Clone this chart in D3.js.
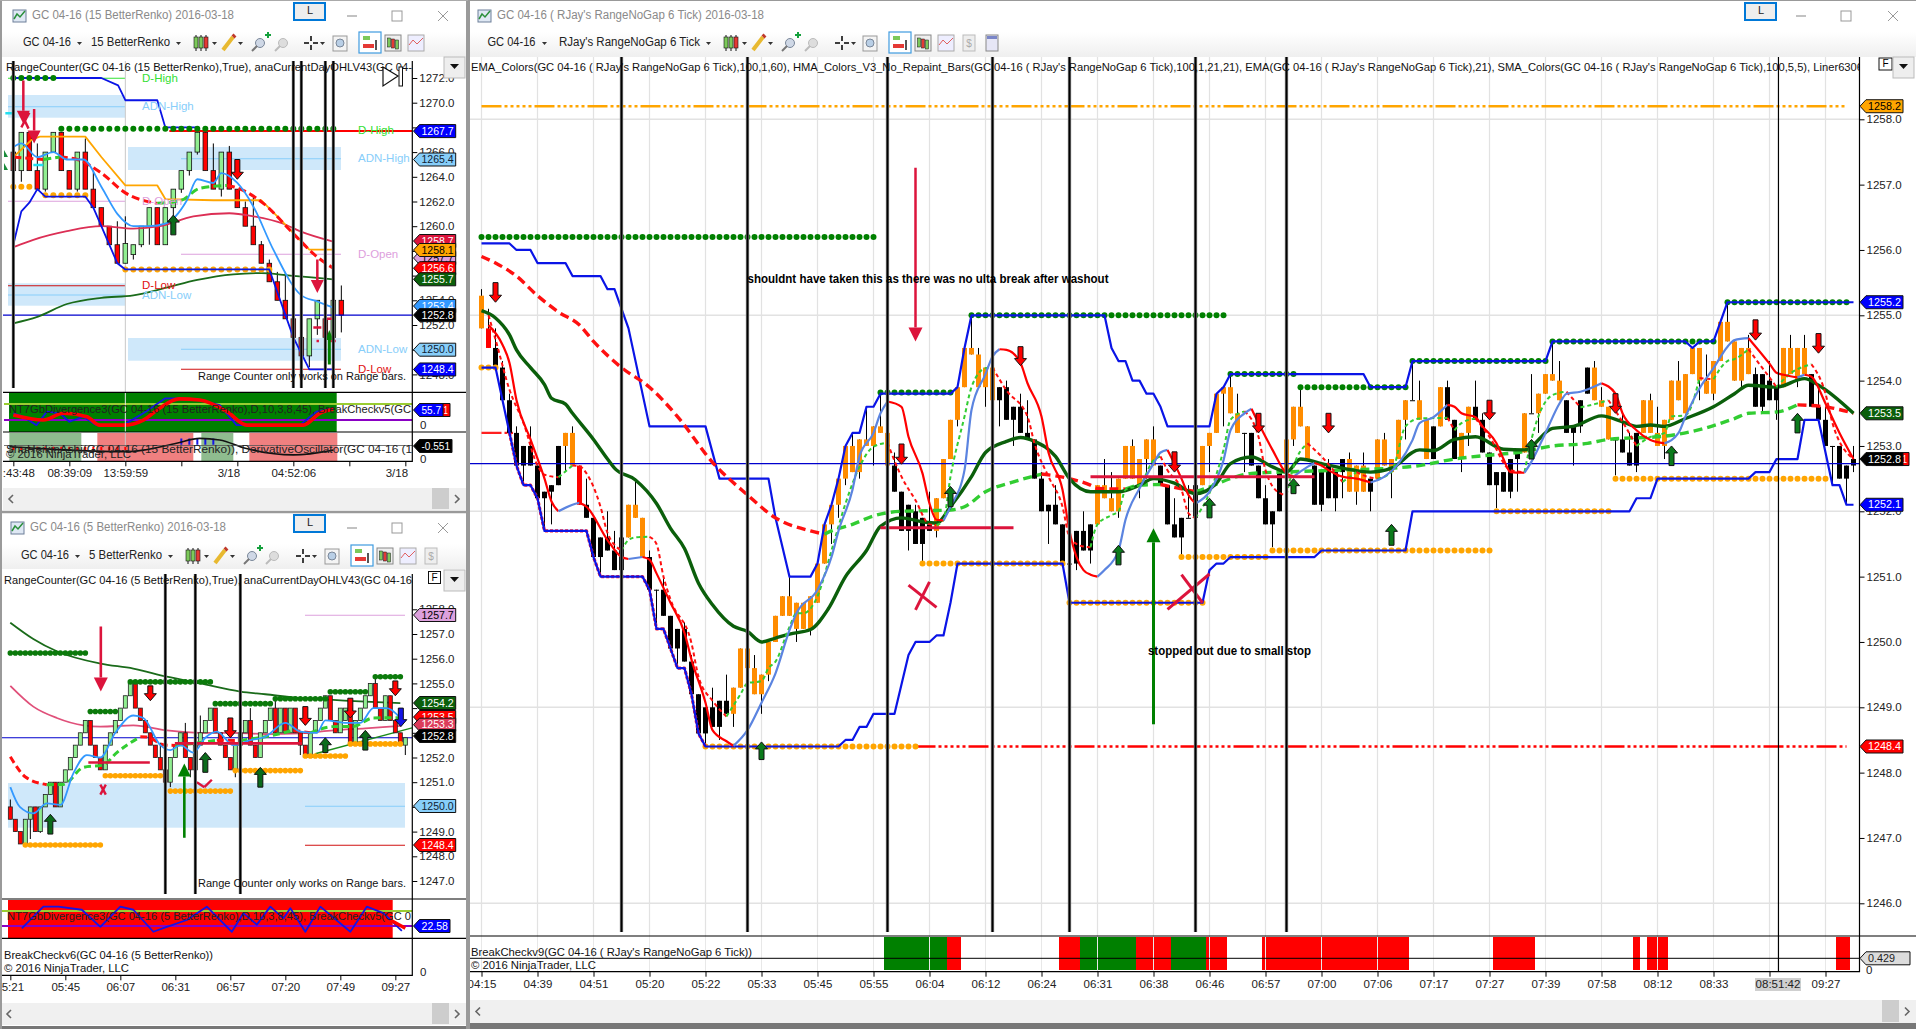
<!DOCTYPE html>
<html>
<head>
<meta charset="utf-8">
<title>GC 04-16 charts</title>
<script src="https://cdn.jsdelivr.net/npm/d3@7"></script>
<style>
body { margin: 0; background: #777; overflow: hidden; }
text { font-family: "Liberation Sans", Arial, sans-serif; }
</style>
</head>
<body>
<div id="graphArea"></div>
<script>
// ---- main chart: RJay's RangeNoGap 6 Tick ----
var mainBodyHi = [1255.3,1254.8,1254.5,1254.2,1253.7,1253.2,1253.0,1253.0,1252.7,1252.3,1252.4,1253.0,1253.2,1253.2,1252.7,1252.1,1251.9,1251.6,1251.6,1251.4,1251.6,1252.1,1252.1,1251.9,1251.3,1250.8,1250.8,1250.4,1250.2,1250.2,1249.7,1249.2,1249.0,1249.0,1249.1,1249.1,1249.3,1249.9,1249.9,1249.6,1249.5,1250.0,1250.4,1250.7,1250.7,1250.6,1250.6,1250.7,1251.2,1251.8,1252.1,1252.5,1253.0,1253.0,1253.1,1253.1,1253.3,1253.3,1253.2,1252.7,1252.3,1252.1,1252.0,1251.9,1251.8,1252.2,1252.8,1253.4,1253.9,1254.5,1254.5,1254.4,1254.2,1254.2,1253.9,1253.9,1253.6,1253.6,1253.2,1253.1,1252.5,1252.1,1252.1,1251.8,1251.2,1251.7,1251.7,1251.8,1252.4,1252.4,1252.2,1252.5,1253.0,1253.0,1252.8,1253.1,1253.1,1252.7,1252.4,1251.8,1251.9,1251.9,1252.4,1253.0,1253.2,1253.8,1253.9,1253.9,1253.5,1253.2,1253.2,1252.7,1252.2,1252.0,1252.6,1253.1,1253.6,1253.6,1253.3,1252.7,1252.6,1252.7,1252.6,1252.8,1252.8,1252.7,1252.7,1252.5,1253.1,1253.1,1252.8,1253.4,1253.7,1253.7,1253.7,1253.4,1253.3,1253.9,1253.9,1253.4,1253.2,1253.6,1253.6,1253.4,1252.9,1252.6,1252.6,1252.8,1252.9,1253.5,1253.5,1253.8,1254.1,1254.1,1254.0,1253.7,1253.3,1253.7,1254.2,1254.2,1253.7,1253.6,1253.1,1253.1,1252.9,1253.2,1253.7,1253.7,1253.2,1253.4,1254.0,1254.0,1254.1,1254.5,1254.5,1254.0,1254.3,1254.9,1254.9,1254.6,1254.5,1254.5,1254.1,1254.1,1254.0,1253.9,1254.5,1254.5,1254.5,1254.5,1254.1,1253.6,1253.4,1253.0,1253.0,1252.7,1252.8];
var mainBodyLo = [1254.8,1254.5,1254.2,1253.7,1253.2,1252.7,1252.7,1252.7,1252.2,1252.2,1252.3,1252.4,1253.0,1252.7,1252.1,1251.9,1251.3,1251.3,1251.4,1251.1,1251.1,1251.6,1251.9,1251.3,1250.8,1250.8,1250.4,1249.9,1249.9,1249.7,1249.2,1248.6,1248.6,1248.7,1248.7,1248.9,1248.9,1249.3,1249.6,1249.2,1249.2,1249.5,1250.0,1250.4,1250.4,1250.2,1250.2,1250.2,1250.6,1251.2,1251.8,1252.1,1252.5,1252.6,1252.6,1253.0,1253.0,1253.2,1252.7,1252.3,1251.7,1251.7,1251.5,1251.5,1251.7,1251.7,1252.2,1252.8,1253.4,1253.9,1254.4,1253.9,1253.9,1253.7,1253.7,1253.4,1253.4,1253.2,1253.1,1252.5,1252.0,1252.0,1251.8,1251.2,1251.2,1251.2,1251.4,1251.4,1251.8,1252.2,1252.0,1252.0,1252.5,1252.5,1252.4,1252.8,1252.7,1252.4,1251.8,1251.6,1251.6,1251.9,1251.9,1252.4,1253.0,1253.2,1253.8,1253.5,1253.2,1253.2,1252.7,1252.2,1251.8,1251.8,1252.0,1252.6,1253.1,1253.3,1252.8,1252.1,1252.1,1252.2,1252.2,1252.6,1252.3,1252.3,1252.3,1252.3,1252.5,1252.7,1252.6,1252.8,1253.4,1253.7,1253.4,1252.8,1252.8,1253.3,1253.4,1252.8,1252.8,1253.2,1253.4,1252.9,1252.4,1252.4,1252.3,1252.3,1252.8,1252.9,1253.5,1253.5,1253.8,1254.0,1253.7,1253.2,1253.2,1253.3,1253.8,1253.7,1253.6,1253.1,1253.1,1252.9,1252.7,1252.7,1253.2,1253.2,1253.0,1253.0,1253.4,1253.7,1253.5,1254.1,1254.0,1253.8,1253.8,1254.3,1254.6,1254.0,1254.0,1254.1,1253.6,1253.6,1253.7,1253.7,1253.9,1254.1,1254.0,1254.1,1253.6,1253.4,1253.0,1253.0,1252.5,1252.5,1252.7];
var mainWickHigh = [[0,1255.4],[1,1255.1],[2,1254.8],[3,1254.3],[4,1253.8],[5,1253.3],[7,1253.3],[13,1253.3],[15,1252.5],[18,1252.0],[19,1251.7],[22,1252.5],[24,1251.4],[26,1251.0],[29,1250.3],[30,1249.8],[33,1249.3],[35,1249.5],[39,1249.8],[44,1251.0],[53,1253.2],[55,1253.6],[57,1253.8],[59,1252.9],[62,1252.1],[64,1252.3],[70,1255.0],[71,1254.5],[75,1254.0],[77,1253.8],[78,1253.7],[80,1252.6],[82,1252.4],[84,1251.4],[86,1252.0],[89,1252.8],[90,1252.6],[93,1253.1],[96,1253.3],[99,1252.2],[101,1252.4],[107,1254.1],[108,1253.8],[112,1252.4],[117,1253.9],[121,1252.8],[124,1252.9],[126,1252.9],[129,1253.2],[133,1254.3],[134,1254.0],[138,1254.0],[142,1254.0],[143,1253.5],[150,1254.1],[153,1254.6],[154,1254.3],[159,1254.3],[160,1253.9],[163,1253.5],[164,1253.2],[167,1253.8],[168,1253.6],[171,1254.3],[175,1254.4],[178,1255.2],[181,1254.7],[182,1254.2],[184,1254.3],[187,1254.7],[189,1254.7],[191,1253.9],[192,1253.6],[196,1253.0]];
var mainWickLow = [[6,1252.4],[9,1251.7],[10,1251.8],[12,1252.6],[17,1251.0],[25,1250.2],[28,1249.6],[32,1248.4],[34,1248.5],[36,1248.7],[40,1248.9],[41,1249.4],[45,1250.0],[47,1250.1],[50,1251.5],[51,1251.9],[52,1252.4],[54,1252.5],[56,1252.7],[61,1251.4],[63,1251.2],[65,1251.6],[68,1253.3],[72,1253.6],[74,1253.3],[76,1253.0],[81,1251.5],[85,1251.1],[87,1251.2],[91,1251.9],[94,1252.2],[95,1252.5],[100,1251.3],[104,1252.6],[106,1253.3],[109,1252.6],[113,1251.45],[116,1253.0],[120,1252.0],[122,1252.0],[123,1252.2],[125,1252.1],[127,1252.0],[130,1252.2],[132,1253.1],[140,1252.6],[141,1253.0],[145,1252.05],[147,1252.2],[148,1252.3],[151,1253.2],[156,1252.7],[157,1253.2],[162,1252.55],[165,1252.6],[169,1252.8],[174,1253.7],[176,1253.7],[180,1253.9],[183,1253.5],[185,1253.4],[188,1253.9],[193,1252.4],[195,1252.1],[196,1252.6]];
var mainUpRuns = [[0,0],[12,13],[21,23],[36,58],[65,73],[88,96],[103,108],[115,118],[124,126],[128,132],[134,135],[137,137],[140,141],[149,149],[151,154],[159,161],[166,181],[186,189]];
var mainRedBars = [1,14];

var mainBandUpper = [[0,1256.1],[4,1256.1],[5,1256.0],[7,1256.0],[8,1255.8],[12,1255.8],[13,1255.6],[17,1255.6],[18,1255.4],[19,1255.4],[21,1254.8],[24,1253.3],[32,1253.3],[34,1252.5],[41,1252.5],[42,1251.9],[44,1251.0],[47,1251.0],[48,1251.2],[49,1251.8],[50,1252.1],[51,1252.5],[52,1253.0],[53,1253.2],[54,1253.2],[55,1253.6],[56,1253.6],[57,1253.8],[67,1253.8],[68,1253.9],[69,1254.5],[70,1255.0],[89,1255.0],[90,1254.5],[91,1254.3],[92,1254.3],[93,1254.0],[94,1254.0],[95,1253.8],[96,1253.8],[97,1253.6],[98,1253.3],[104,1253.3],[105,1253.8],[106,1253.9],[107,1254.1],[126,1254.1],[127,1253.9],[132,1253.9],[133,1254.3],[152,1254.3],[153,1254.6],[172,1254.6],[173,1254.5],[174,1254.6],[176,1254.6],[178,1255.2],[196,1255.2]];
var mainBandLower = [[0,1254.2],[2,1254.2],[3,1253.7],[4,1253.2],[5,1252.7],[6,1252.4],[7,1252.4],[8,1252.2],[9,1251.7],[15,1251.7],[16,1251.3],[17,1251.0],[23,1251.0],[24,1250.8],[25,1250.2],[26,1250.2],[27,1249.9],[28,1249.6],[29,1249.6],[30,1249.2],[31,1248.6],[32,1248.4],[51,1248.4],[52,1248.5],[53,1248.5],[54,1248.7],[55,1248.7],[56,1248.9],[59,1248.9],[61,1249.8],[62,1250.0],[64,1250.0],[65,1250.1],[66,1250.1],[67,1250.6],[68,1251.2],[83,1251.2],[84,1250.6],[103,1250.6],[104,1251.1],[105,1251.2],[106,1251.2],[107,1251.3],[119,1251.3],[120,1251.4],[132,1251.4],[133,1252.0],[164,1252.0],[165,1252.2],[167,1252.2],[168,1252.5],[181,1252.5],[182,1252.6],[184,1252.6],[185,1252.8],[188,1252.8],[189,1253.4],[191,1253.4],[193,1252.4],[194,1252.4],[195,1252.1],[196,1252.1]];
var mainSma = [[0,1255.9],[2,1255.8],[5,1255.6],[8,1255.3],[11,1255.05],[14,1254.85],[16,1254.6],[20,1254.2],[24,1253.9],[28,1253.45],[33,1252.75],[38,1252.25],[42,1251.9],[47,1251.7],[49,1251.65],[50,1251.7],[53,1251.8],[56,1251.93],[60,1252.0],[64,1252.01],[67,1252.02],[69,1252.07],[72,1252.3],[76,1252.45],[80,1252.57],[84,1252.5],[87,1252.4],[88,1252.35],[92,1252.34],[94,1252.4],[97,1252.41],[102,1252.3],[104,1252.37],[107,1252.5],[110,1252.58],[114,1252.6],[120,1252.62],[125,1252.64],[130,1252.66],[134,1252.7],[139,1252.8],[143,1252.85],[148,1252.9],[153,1253.0],[158,1253.04],[161,1253.1],[169,1253.15],[174,1253.25],[179,1253.42],[181,1253.5],[185,1253.52],[188,1253.63],[193,1253.58],[196,1253.5]];
var mainEma = [[0,1255.07],[2,1254.96],[4,1254.7],[5,1254.47],[7,1254.2],[9,1253.94],[10,1253.73],[12,1253.64],[13,1253.5],[16,1253.1],[18,1252.8],[19,1252.66],[22,1252.48],[25,1252.12],[27,1251.74],[29,1251.43],[31,1250.9],[33,1250.57],[36,1250.24],[38,1250.16],[40,1250.0],[42,1250.06],[44,1250.12],[47,1250.19],[49.5,1250.5],[52,1251.0],[55,1251.4],[57,1251.77],[60,1251.9],[63,1251.84],[65,1251.82],[67,1252.07],[70,1252.53],[72,1252.9],[75,1253.07],[77,1253.13],[79,1253.07],[82,1252.84],[84,1252.5],[87,1252.3],[91,1252.3],[94,1252.4],[96,1252.5],[99,1252.43],[102,1252.27],[105,1252.43],[107,1252.73],[110,1252.83],[113,1252.68],[115,1252.6],[117,1252.8],[120,1252.73],[123,1252.66],[127,1252.6],[130,1252.66],[134,1252.94],[136,1252.93],[139,1253.1],[142,1253.14],[146,1252.95],[149,1252.94],[153,1253.27],[156,1253.3],[160,1253.46],[163,1253.37],[165,1253.3],[167,1253.32],[169,1253.3],[172,1253.42],[176,1253.6],[179,1253.8],[181,1253.93],[185,1253.9],[189,1254.03],[191,1253.93],[196,1253.5]];
var mainHma = [[1,1254.85],[3,1254.55],[4,1254.27],[5,1253.7],[7,1253.1],[9,1252.5],[10,1252.15],[11,1252.0],[13,1252.1],[14,1252.13],[15,1252.07],[18,1251.56],[20,1251.3],[21,1251.27],[23,1251.3],[24,1251.26],[25,1251.05],[27,1250.6],[29,1250.14],[30,1249.73],[32,1249.07],[33,1248.65],[35,1248.48],[36,1248.41],[38,1248.65],[40,1249.07],[42,1249.52],[44,1250.18],[45,1250.44],[48,1250.8],[50,1251.3],[51,1251.7],[53,1252.33],[54,1252.84],[56,1253.2],[57,1253.5],[58,1253.68],[60,1253.6],[61,1253.14],[63,1252.58],[64,1252.12],[65,1251.87],[66,1251.86],[67,1252.07],[69,1252.63],[70,1253.55],[72,1254.1],[73,1254.37],[74,1254.48],[75,1254.47],[77,1254.27],[78,1253.96],[80,1253.45],[81,1252.9],[83,1252.33],[84,1251.7],[85,1251.3],[86,1251.1],[87,1251.03],[88,1251.0],[89,1251.1],[91,1251.4],[92,1251.87],[94,1252.35],[96,1252.73],[97,1252.9],[98,1252.94],[99,1252.73],[100,1252.5],[101,1252.25],[102,1252.12],[104,1252.3],[106,1252.78],[107,1253.24],[109,1253.5],[110,1253.57],[111,1253.35],[113,1252.94],[115,1252.58],[116,1252.53],[118,1252.68],[119,1252.74],[120,1252.7],[121,1252.63],[123,1252.53],[125,1252.5],[127,1252.44],[129,1252.53],[131,1252.73],[133,1253.09],[134,1253.35],[136,1253.44],[137,1253.53],[138,1253.63],[139,1253.6],[140,1253.5],[142,1253.44],[143,1253.3],[145,1253.04],[146,1252.8],[147,1252.6],[149,1252.59],[150,1252.76],[152,1253.2],[154,1253.65],[155,1253.8],[157,1253.83],[160,1253.96],[162,1253.8],[163,1253.5],[165,1253.24],[167,1253.09],[169,1253.04],[171,1253.2],[172,1253.45],[174,1253.88],[176,1254.19],[178,1254.52],[179,1254.62],[181,1254.65],[184,1254.26],[185,1254.12],[186,1254.09],[188,1254.05],[189,1254.09],[190,1254.06],[192,1253.65],[194,1253.2],[196,1252.8]];
var mainFast = [[1,1255.0],[2,1254.63],[4,1253.86],[6,1253.35],[8,1252.7],[9,1252.56],[11,1252.52],[13,1252.7],[14,1252.69],[15,1252.58],[17,1252.07],[18,1251.67],[20,1251.4],[21,1251.56],[22,1251.6],[24,1251.61],[25,1251.5],[26,1251.0],[27,1250.65],[30,1249.98],[31,1249.47],[33,1249.1],[35,1248.86],[37,1249.2],[38,1249.37],[40,1249.4],[41,1249.6],[42,1249.7],[44,1250.23],[45,1250.44],[46,1250.44],[48,1250.7],[50,1251.4],[52,1252.12],[54,1252.68],[56,1252.99],[58,1253.05],[60,1252.53],[62,1252.17],[64,1251.8],[65,1251.79],[66,1251.87],[67,1252.53],[69,1253.45],[70,1253.9],[72,1254.19],[73,1254.2],[75,1253.85],[78,1253.45],[79,1253.04],[81,1252.53],[83,1252.07],[84,1251.6],[85,1251.5],[86,1251.46],[87,1251.45],[88,1251.8],[90,1251.94],[91,1252.0],[92,1252.33],[94,1252.4],[96,1252.78],[97,1252.84],[98,1252.63],[100,1252.33],[101,1251.97],[102,1251.9],[104,1252.28],[106,1252.94],[107,1253.4],[109,1253.53],[111,1253.14],[112,1252.63],[114,1252.28],[115,1252.25],[116,1252.68],[118,1253.04],[120,1252.84],[123,1252.45],[125,1252.6],[126,1252.55],[128,1252.5],[130,1252.6],[132,1253.3],[134,1253.42],[138,1253.43],[139,1253.24],[140,1253.35],[142,1253.42],[144,1253.14],[147,1252.63],[149,1252.6],[150,1253.1],[153,1253.78],[155,1253.83],[157,1253.59],[159,1253.64],[161,1253.7],[163,1253.37],[165,1253.0],[167,1253.14],[169,1253.2],[170,1253.45],[172,1253.47],[174,1254.04],[176,1254.02],[178,1254.3],[179,1254.33],[181,1254.48],[183,1254.19],[184,1254.05],[185,1253.9],[187,1254.11],[190,1254.25],[192,1253.8],[193,1253.35],[196,1252.8]];
var mainGreenDots = [[0,56,1256.2],[57,67,1253.82],[70,106,1255.0],[107,116,1254.1],[117,132,1253.9],[133,152,1254.3],[153,176,1254.6],[178,195,1255.2]];
var mainOrangeDots = [[0,2,1254.2],[32,62,1248.4],[63,83,1251.2],[84,103,1250.6],[100,112,1251.3],[113,144,1251.4],[145,161,1252.0],[162,192,1252.5]];
var mainVLines = [20,38,58,73,84,102,115];
var mainDownArrows = [[2,1255.5,1255.2],[60,1253.03,1252.72],[77,1254.52,1254.23],[99,1252.91,1252.6],[111,1253.5,1253.2],[121,1253.5,1253.2],[144,1253.7,1253.4],[162,1253.8,1253.5],[182,1254.93,1254.62],[191,1254.72,1254.42]];
var mainUpArrows = [[40,1248.47,1248.2],[67,1252.38,1252.07],[91,1251.48,1251.18],[116,1252.5,1252.27],[104,1252.2,1251.9],[130,1251.8,1251.48],[150,1253.1,1252.8],[170,1253.0,1252.7],[188,1253.5,1253.2]];
var mainBigDown = [[62,1257.26,1254.6]];
var mainBigUp = [[96,1251.74,1248.74]];
var mainCrimsonLines = [[57,76,1251.75],[87,119,1252.53]];
var mainCrosses = [[[61,1250.87,65,1250.53],[64,1250.92,62,1250.49]],[[98,1250.5,104,1251.04],[100,1251.03,103,1250.6]]];
var mainLastLine = 1252.73;
var mainBreakGreen = [[57.5,66.5],[85.5,93.5],[98.5,103.5]];
var mainBreakRed = [[66.5,68.5],[82.5,85.5],[93.5,98.5],[103.5,106.5],[111.5,132.5],[144.5,150.5],[164.5,165.5],[166.5,169.5],[193.5,195.5]];
var mainPriceTicks = [1246,1247,1248,1249,1250,1251,1252,1253,1254,1255,1256,1257,1258];
var mainGridPrices = [1246,1249,1252,1255,1258];
var mainTimeIdx = [0,8,16,24,32,40,48,56,64,72,80,88,96,104,112,120,128,136,144,152,160,168,176,184,192];
var mainTimeLabels = ["04:15","04:39","04:51","05:20","05:22","05:33","05:45","05:55","06:04","06:12","06:24","06:31","06:38","06:46","06:57","07:00","07:06","07:17","07:27","07:39","07:58","08:12","08:33","","09:27"];

// ---- chart 2: 15 BetterRenko ----
var c2Top = [1266.0,1267.6,1267.6,1264.5,1266,1267.6,1267.6,1264.5,1266,1266,1263,1261.5,1260,1258.5,1258.6,1258.5,1260,1261.5,1261.5,1261.5,1263,1264.5,1266,1267.6,1267.6,1264.5,1266,1266,1263,1261.5,1260,1258.5,1257,1255.5,1254,1252.5,1251,1252.5,1254,1252.5,1254,1254];
var c2Bot = [1264.5,1264.5,1264.5,1263,1263,1266,1264.5,1263,1263,1263,1261.5,1260,1258.5,1257,1257,1257.7,1258.5,1260,1258.5,1258.5,1261.5,1263,1264.5,1266,1264.5,1263,1263,1263,1261.5,1260,1258.5,1257,1255.5,1254,1252.5,1251,1249.5,1249.5,1252.5,1251,1251,1252.8];
var c2Red = [0,2,3,6,7,9,10,11,12,13,18,24,25,27,28,29,30,31,32,33,34,35,36,39,41];
var c2WickHigh = [[3,1266.7],[9,1267.1],[10,1264.5],[13,1260.4],[14,1260.8],[25,1266.7],[27,1266.5],[29,1262],[30,1262.3],[31,1258.8],[32,1257.3],[33,1256.3],[34,1256.3],[41,1255.2]];
var c2WickLow = [[1,1263.6],[4,1262.8],[8,1262.8],[15,1257.3],[16,1258.3],[17,1258.5],[20,1260.8],[21,1262.7],[22,1264.1],[23,1265.8],[26,1262.4],[37,1248.6],[38,1251.2],[40,1250.8],[41,1251.4]];
var c2BandUpper = [[-0.2,1272],[11,1272],[13.1,1271.4],[14,1270.2],[18,1270.2],[19,1268],[23,1268]];
var c2BandLower = [[0,1258.5],[1,1261.2],[2,1261.9],[3,1263],[4,1262.4],[9,1262.4],[10,1261.5],[11,1260],[13,1257],[14,1256.5],[32,1256.5],[35,1251],[37,1248.4],[40,1248.4]];
var c2Orange = [[0,1265.6],[2.3,1267],[3.3,1267.25],[9,1267.25],[11,1265.6],[14,1263.3],[18,1263.3],[19,1262.2],[25,1262.1],[31,1262.1],[33,1260.8],[37,1258.1],[40,1258.1]];
var c2Crimson = [[0.2,1258.35],[2.5,1258.9],[6.7,1259.6],[11,1260],[15,1259.8],[18.3,1260],[22.5,1260.8],[27,1261.05],[30,1260.8],[33.75,1260.2],[35.8,1259.6],[40,1258.75]];
var c2DarkGreen = [[0,1252.14],[3,1252.66],[6.7,1253.7],[11,1254.2],[15,1254.4],[19,1255],[23,1255.65],[27.5,1256.1],[31,1256.2],[34.6,1256],[40,1255.7]];
var c2SkyLine = [[0,1266.4],[1,1266.7],[3,1265.6],[5,1266],[6.7,1265.4],[8.75,1265.4],[11,1263.2],[13,1261],[15,1260],[17,1260],[19,1260.2],[21.7,1262.1],[23,1263.8],[25,1263.5],[26,1264.3],[28,1263.5],[30,1261.6],[32.5,1258.1],[36,1254.4],[38,1253.9],[40,1253.4]];
var c2Sma = [[0,1265.6],[3.75,1265.4],[5.8,1265.6],[8,1265.4],[11,1264.3],[14,1262.7],[18,1261.85],[21,1262.1],[23.3,1263.07],[26.7,1263.3],[27.5,1263.2],[31.25,1261.85],[35,1259.4],[38,1257.5],[40,1256.6]];
var c2GreenDots = [[0,5,1272],[6,40,1267.9]];
var c2OrangeDots = [[0,2,1263.2],[4,9,1262.5],[14,32,1256.5]];
var c2VLines = [0,35,36,39,40];
var c2DownArrows = [[28,1265.4,1263.8]];
var c2UpArrows = [[20,1260.9,1259.3]];
var c2BigDown = [[1.25,1271.8,1268.3],[2.6,1269.5,1266.7],[38,1257.3,1254.6]];
var c2BigUp = [[39.5,1251.6,1248.8]];
var c2CrimsonLines = [[37.5,38.5,1251.8],[39.2,40.2,1252.5],[37.9,38.2,1250.7],[39.5,40.3,1250.7]];
var c2Crosses = [[1,1268,2,1269.2],[1.1,1269,1.9,1267.9]];
var c2CyanDashes = [[-1,-0.05,1269.14],[2.5,3.75,1264.96]];
var c2PriceTicks = [1248,1250,1252,1254,1256,1258,1260,1262,1264,1266,1268,1270,1272];
var c2TimeIdx = [0,7,14,21,28,35,42,49];
var c2TimeLabels = [":43:48","08:39:09","13:59:59","","3/18","04:52:06","","3/18"];
var c2DivBlue = [[0,44],[1.25,32],[2.9,2],[4.2,50],[5.8,44],[7,14],[8.75,32],[10.4,2],[13.75,2],[16.25,44],[19,97],[20.7,97],[23.3,91],[25.8,73],[27.9,2],[35.8,2],[37.9,50],[40,61]];
var c2DivRed = [[0,38],[3.75,20],[6.25,44],[9.2,32],[10.8,2],[13.75,2],[16.25,20],[18.3,62],[20.7,95],[23.3,91],[26.7,50],[29.2,2],[36.25,2],[38.3,44],[40,58]];
var c2OscLine = [[-0.5,-0.52],[5,-0.42],[14,-0.33],[16.25,-0.39],[20.4,-0.66],[23.3,-0.85],[25.8,-0.79],[29,-0.46],[35,-0.2],[40,-0.39]];
var c2CellGreen = [[-0.5,8.5],[23.5,27.5]];
var c2CellSalmon = [[10.5,22.5],[29.5,40.5]];

// ---- chart 3: 5 BetterRenko ----
var c3Top = [1250,1249.5,1249,1249.5,1250,1250,1250,1250.5,1251,1251,1251,1251.5,1252,1252.5,1253,1253.5,1253.5,1252.5,1252,1252.5,1253,1253.5,1254,1254.5,1255,1255,1254,1253.5,1253,1252.5,1252,1251.5,1252,1252.5,1253,1253,1252,1252.5,1253,1253.5,1254,1254,1253,1252.5,1252,1252.5,1253,1253.5,1253.5,1252.5,1253,1253.5,1254,1254,1254,1254,1254,1254,1253,1252.5,1253,1253.5,1254,1254.5,1254.5,1253.5,1254,1254,1254,1253.5,1254,1254.5,1255,1255,1254,1254.5,1254.5,1253.5,1253,1252.8];
var c3Bot = [1249.5,1249,1248.5,1248.5,1249.5,1249,1249,1250,1250.5,1250,1250,1251,1251.5,1252,1252.5,1253,1252.5,1252,1251.5,1251.5,1252.5,1253,1253.5,1254,1254.5,1254,1253.5,1253,1252.5,1252,1251.5,1251,1251,1252,1252.5,1252,1251.5,1251.5,1252.5,1253,1253.5,1253,1252.5,1252,1251.5,1251.5,1252.5,1253,1252.5,1252,1252,1253,1253.5,1253,1253,1253,1253,1253,1252.5,1252,1252,1253,1253.5,1254,1253.5,1253,1253,1253.5,1252.5,1252.5,1253.5,1254,1254.5,1254,1253.5,1253.5,1253.5,1253,1252.5,1252.5];
var c3Red = [0,1,2,5,9,16,17,18,25,26,27,28,29,30,31,35,36,41,42,43,44,48,49,53,55,57,58,59,64,65,68,73,74,76,77,78];
var c3WickHigh = [[0,1250.3],[8,1251],[25,1255],[30,1252.6],[35,1253.4],[38,1253.7],[48,1254],[53,1254.3],[73,1255.3]];
var c3WickLow = [[3,1248.5],[4,1248.7],[6,1248.95],[31,1250.7],[32,1250.8],[36,1251.2],[45,1251.2],[58,1252.1],[79,1252.1]];
var c3DarkGreen = [[0,1257.46],[4.6,1256.8],[9.3,1256.3],[18,1255.8],[24.6,1255.6],[31.3,1255.27],[38,1255],[46,1254.67],[51,1254.56],[58,1254.4],[64.6,1254.33],[71,1254.26],[78,1254.2]];
var c3Crimson = [[0,1254.9],[4.6,1254.06],[9.3,1253.6],[14.6,1253.3],[18,1253.25],[24.6,1253.3],[31.3,1253.1],[38,1253],[44.6,1253],[51,1252.95],[58,1252.98],[64.6,1253.1],[71,1253.18],[78,1253.28]];
var c3SkyLine = [[0,1250.8],[1.9,1250],[4.6,1249.74],[7.3,1250.14],[10,1250.08],[12.6,1251.36],[15.3,1252.1],[18,1252],[21,1253],[24.6,1253.7],[26.6,1253.6],[30,1252.5],[32,1252.3],[34,1252.5],[36.6,1252.2],[39,1252.8],[41.3,1253.05],[44.6,1252.5],[48,1252.7],[51,1252.84],[55,1253.4],[58,1253.05],[61.3,1253],[63,1253.5],[67.3,1253.4],[70,1253.4],[72.6,1254],[75.3,1254],[78,1253.6]];
var c3Sma = [[0,1252.03],[3.1,1251.2],[7.3,1250.9],[10.6,1250.91],[14.6,1251.6],[18.6,1251.7],[21.3,1252.2],[26,1252.84],[27.2,1252.83],[31,1252.5],[33,1252.49],[36.6,1252.57],[41.3,1252.7],[46,1252.69],[51,1252.84],[56.6,1253.1],[60,1253],[64.6,1253.25],[68.6,1253.26],[72.6,1253.6],[78,1253.61]];
var c3GreenDots = [[0,15,1256.23],[16,21,1253.86],[24,40,1255.06],[41,52,1254.18],[53,63,1254.38],[64,71,1254.66],[73,78,1255.27]];
var c3OrangeDots = [[3,18,1248.46],[19,30,1251.26],[32,44,1250.64],[45,58,1251.47],[59,67,1252.06],[68,78,1252.55]];
var c3VLines = [31,37,46];
var c3DownArrows = [[28,1254.9,1254.3],[44,1253.6,1252.8],[59,1254.06,1253.3],[68,1254.4,1253.6],[77,1255.1,1254.5]];
var c3BlueArrows = [[78.1,1254,1253.25]];
var c3UpArrows = [[8,1249.7,1248.9],[39,1252.2,1251.4],[50,1251.6,1250.8],[63,1252.8,1252.2],[71,1253.1,1252.3]];
var c3BigDown = [[18.1,1257.3,1254.67]];
var c3BigUp = [[34.8,1251.76,1248.75]];
var c3CrimsonLines = [[15.6,27.9,1251.8],[32.9,58.3,1252.57]];
var c3Crosses = [[[18,1250.9,19.1,1250.5],[19.1,1250.9,18,1250.5]],[[37.3,1251.0,38.8,1250.8],[38.8,1250.8,40.3,1251.1]]];
var c3PriceTicks = [1247,1248,1249,1250,1251,1252,1253,1254,1255,1256,1257,1258];
var c3TimeIdx = [0,11,22,33,44,55,66,77];
var c3TimeLabels = ["5:21","05:45","06:07","06:31","06:57","07:20","07:49","09:27"];
var c3DivBlue = [[2.3,15],[6.6,85],[9.6,85],[14.3,75],[18,20],[22,85],[24.6,75],[28.6,4],[31.3,20],[35.3,42],[39.3,85],[44.3,4],[46.6,64],[49.3,27],[52,85],[54.6,47],[56,80],[59,4],[62,85],[68,4],[71.3,85],[74.6,64],[78.3,7]];
var c3DivRed = [[76,42],[79,15]];

// ---- helpers ----
var svg = d3.select("#graphArea").append("svg").attr("width", 1916).attr("height", 1029).style("display", "block");
var defs = svg.append("defs");
var grad = defs.append("linearGradient").attr("id", "toolbarFill").attr("x1", 0).attr("x2", 0).attr("y1", 0).attr("y2", 1);
grad.append("stop").attr("offset", "0").attr("stop-color", "#ffffff");
grad.append("stop").attr("offset", "1").attr("stop-color", "#efefef");

var clipCount = 0;
function clipGroup(parent, x, y, w, h) {
  clipCount++;
  defs.append("clipPath").attr("id", "clip" + clipCount).append("rect").attr("x", x).attr("y", y).attr("width", w).attr("height", h);
  return parent.append("g").attr("clip-path", "url(#clip" + clipCount + ")");
}
function label(g, x, y, txt, opts) {
  opts = opts || {};
  var t = g.append("text").attr("x", x).attr("y", y).attr("dominant-baseline", "middle")
    .attr("font-size", opts.size || 11).attr("fill", opts.fill || "#000").text(txt);
  if (opts.bold) t.attr("font-weight", "bold");
  if (opts.anchor) t.attr("text-anchor", opts.anchor);
  if (opts.width) t.attr("textLength", opts.width).attr("lengthAdjust", "spacingAndGlyphs");
  return t;
}
function hseg(g, x1, x2, y, color, w, dash) {
  var l = g.append("line").attr("x1", x1).attr("x2", x2).attr("y1", y).attr("y2", y).attr("stroke", color).attr("stroke-width", w);
  if (dash) l.attr("stroke-dasharray", dash);
  return l;
}
function vseg(g, x, y1, y2, color, w) {
  return g.append("line").attr("x1", x).attr("x2", x).attr("y1", y1).attr("y2", y2).attr("stroke", color).attr("stroke-width", w);
}
function drawLine(g, pts, x, y, color, w, curve, dash) {
  var line = d3.line().x(function(d) { return x(d[0]); }).y(function(d) { return y(d[1]); }).curve(curve || d3.curveLinear);
  var p = g.append("path").attr("d", line(pts)).attr("fill", "none").attr("stroke", color).attr("stroke-width", w).attr("stroke-linejoin", "round");
  if (dash) p.attr("stroke-dasharray", dash);
}
// rising runs get upColor, falling runs downColor
function drawSlopeLine(g, pts, x, y, upColor, downColor, w, dash) {
  var run = [pts[0]], rising = pts[1][1] >= pts[0][1];
  for (var i = 1; i < pts.length; i++) {
    var up = pts[i][1] >= pts[i - 1][1];
    if (up !== rising) {
      drawLine(g, run, x, y, rising ? upColor : downColor, w, d3.curveMonotoneX, dash);
      run = [pts[i - 1]];
      rising = up;
    }
    run.push(pts[i]);
  }
  drawLine(g, run, x, y, rising ? upColor : downColor, w, d3.curveMonotoneX, dash);
}
function drawCandles(g, top, bot, x, y, w, upFill, downFill, isDown, isAccent, accent, stroke, wickHigh, wickLow) {
  var highs = {}, lows = {};
  wickHigh.forEach(function(d) { highs[d[0]] = d[1]; });
  wickLow.forEach(function(d) { lows[d[0]] = d[1]; });
  var data = top.map(function(t, i) {
    return { i: i, top: t, bot: bot[i], high: highs[i] === undefined ? t : highs[i], low: lows[i] === undefined ? bot[i] : lows[i] };
  });
  g.selectAll(null).data(data).enter().append("line")
    .attr("x1", function(d) { return x(d.i); }).attr("x2", function(d) { return x(d.i); })
    .attr("y1", function(d) { return y(d.high); }).attr("y2", function(d) { return y(d.low); })
    .attr("stroke", "#000").attr("stroke-width", 1);
  g.selectAll(null).data(data).enter().append("rect")
    .attr("x", function(d) { return x(d.i) - w / 2; })
    .attr("y", function(d) { return y(d.top); })
    .attr("width", w)
    .attr("height", function(d) { return Math.max(1, y(d.bot) - y(d.top)); })
    .attr("fill", function(d) { return isAccent(d.i) ? accent : (isDown(d.i) ? downFill : upFill); })
    .attr("stroke", stroke || "none").attr("stroke-width", stroke ? 0.8 : 0);
}
function drawDots(g, runs, x, y, color, r) {
  runs.forEach(function(run) {
    g.selectAll(null).data(d3.range(run[0], run[1] + 1)).enter().append("circle")
      .attr("cx", function(d) { return x(d); }).attr("cy", y(run[2])).attr("r", r).attr("fill", color);
  });
}
function smallArrow(g, cx, y1, y2, up, color) {
  var tipY = up ? y1 : y2, baseY = up ? y1 + 7 : y2 - 7, endY = up ? y2 : y1;
  var pts = [[cx, tipY], [cx + 6, baseY], [cx + 2.5, baseY], [cx + 2.5, endY], [cx - 2.5, endY], [cx - 2.5, baseY], [cx - 6, baseY]];
  g.append("polygon").attr("points", pts.join(" ")).attr("fill", color).attr("stroke", "#111").attr("stroke-width", 1);
}
function bigArrow(g, cx, y1, y2, up, color, headW, headH, w) {
  var tipY = up ? y1 : y2, baseY = up ? y1 + headH : y2 - headH, endY = up ? y2 : y1;
  vseg(g, cx, baseY, endY, color, w);
  g.append("polygon").attr("points", [[cx, tipY], [cx + headW / 2, baseY], [cx - headW / 2, baseY]].join(" ")).attr("fill", color);
}
function flag(g, x0, x1, yy, fill, color, txt, textW) {
  var h = 6.5;
  g.append("path").attr("d", "M" + x0 + "," + yy + "L" + (x0 + 6) + "," + (yy - h) + "L" + x1 + "," + (yy - h) + "L" + x1 + "," + (yy + h) + "L" + (x0 + 6) + "," + (yy + h) + "Z")
    .attr("fill", fill).attr("stroke", "#111").attr("stroke-width", 1);
  label(g, x0 + 8, yy + 0.5, txt, { fill: color, size: 11.5, width: textW || (x1 - x0 - 10) });
}
function priceAxis(g, x, y, ticks, fmt) {
  var ax = g.append("g").attr("transform", "translate(" + x + ",0)")
    .call(d3.axisRight(y).tickValues(ticks).tickSize(5).tickFormat(fmt || d3.format(".1f")));
  ax.select(".domain").remove();
  ax.selectAll("text").attr("font-size", 11.5).attr("fill", "#222").attr("font-family", "Liberation Sans").attr("x", 7);
  ax.selectAll("line").attr("stroke", "#000");
  return ax;
}
function timeAxis(g, y0, x, idx, labels) {
  var ax = g.append("g").attr("transform", "translate(0," + y0 + ")")
    .call(d3.axisBottom(x).tickValues(idx).tickSize(5).tickFormat(function(d, i) { return labels[i]; }));
  ax.select(".domain").remove();
  ax.selectAll("text").attr("font-size", 11.5).attr("fill", "#222").attr("font-family", "Liberation Sans").attr("y", 8);
  ax.selectAll("line").attr("stroke", "#000");
  return ax;
}
function drawChrome(g, x0, y0, x1, titleX, title, btnX, minX, maxX, closeX, titleW) {
  g.append("rect").attr("x", x0).attr("y", y0).attr("width", x1 - x0).attr("height", 31).attr("fill", "#fff");
  g.append("rect").attr("x", x0).attr("y", y0 + 31).attr("width", x1 - x0).attr("height", 25).attr("fill", "url(#toolbarFill)");
  // app icon
  g.append("rect").attr("x", titleX - 19).attr("y", y0 + 9).attr("width", 13).attr("height", 12).attr("fill", "#dfe8f4").attr("stroke", "#6c7f99").attr("stroke-width", 1);
  g.append("polyline").attr("points", [[titleX - 18, y0 + 18], [titleX - 15, y0 + 13], [titleX - 12, y0 + 16], [titleX - 7, y0 + 10]].join(" ")).attr("fill", "none").attr("stroke", "#2a8f3a").attr("stroke-width", 1.5);
  label(g, titleX, y0 + 15, title, { fill: "#8a8a8a", size: 12, width: titleW });
  // lock button
  g.append("rect").attr("x", btnX + 1).attr("y", y0 + 2).attr("width", 31).attr("height", 17).attr("fill", "#eee").attr("stroke", "#0078d7").attr("stroke-width", 2);
  label(g, btnX + 17, y0 + 10, "L", { anchor: "middle", size: 11, fill: "#222" });
  hseg(g, minX - 5, minX + 5, y0 + 15, "#999", 1.2);
  g.append("rect").attr("x", maxX - 5).attr("y", y0 + 10).attr("width", 10).attr("height", 10).attr("fill", "none").attr("stroke", "#999");
  g.append("path").attr("d", "M" + (closeX - 5) + "," + (y0 + 10) + "l10,10M" + (closeX + 5) + "," + (y0 + 10) + "l-10,10").attr("stroke", "#999").attr("fill", "none");
}
function toolIcons(g, y, xs) {
  // candles
  [["#7cc95a", -5], ["#7cc95a", 0], ["#e53935", 5]].forEach(function(c) {
    vseg(g, xs[0] + c[1], y - 8, y + 8, "#111", 1);
    g.append("rect").attr("x", xs[0] + c[1] - 2).attr("y", y - 6).attr("width", 4).attr("height", 11).attr("fill", c[0]).attr("stroke", "#111").attr("stroke-width", 0.6);
  });
  g.append("path").attr("d", "M" + (xs[0] + 11) + "," + (y - 1) + "h5l-2.5,3z").attr("fill", "#333");
  // pencil
  g.append("line").attr("x1", xs[1] - 7).attr("y1", y + 7).attr("x2", xs[1] + 3).attr("y2", y - 6).attr("stroke", "#e8b930").attr("stroke-width", 4);
  g.append("line").attr("x1", xs[1] + 3).attr("y1", y - 6).attr("x2", xs[1] + 5).attr("y2", y - 8).attr("stroke", "#c0392b").attr("stroke-width", 4);
  g.append("path").attr("d", "M" + (xs[1] + 8) + "," + (y - 1) + "h5l-2.5,3z").attr("fill", "#333");
  // zoom in, zoom out
  g.append("circle").attr("cx", xs[2]).attr("cy", y).attr("r", 4.5).attr("fill", "#cfd8e6").attr("stroke", "#7a8799");
  g.append("line").attr("x1", xs[2] - 3).attr("y1", y + 3).attr("x2", xs[2] - 8).attr("y2", y + 8).attr("stroke", "#777").attr("stroke-width", 2);
  g.append("path").attr("d", "M" + (xs[2] + 5) + "," + (y - 8) + "h6M" + (xs[2] + 8) + "," + (y - 11) + "v6").attr("stroke", "#14a03c").attr("stroke-width", 2);
  g.append("circle").attr("cx", xs[3]).attr("cy", y).attr("r", 4.5).attr("fill", "#ddd").attr("stroke", "#bbb");
  g.append("line").attr("x1", xs[3] - 3).attr("y1", y + 3).attr("x2", xs[3] - 8).attr("y2", y + 8).attr("stroke", "#bbb").attr("stroke-width", 2);
  // crosshair
  g.append("path").attr("d", "M" + (xs[4] - 7) + "," + y + "h5M" + (xs[4] + 2) + "," + y + "h5M" + xs[4] + "," + (y - 7) + "v5M" + xs[4] + "," + (y + 2) + "v5").attr("stroke", "#000").attr("stroke-width", 1.5);
  g.append("path").attr("d", "M" + (xs[4] + 9) + "," + (y - 1) + "h5l-2.5,3z").attr("fill", "#333");
  // data box
  g.append("rect").attr("x", xs[5] - 7).attr("y", y - 7).attr("width", 14).attr("height", 15).attr("fill", "#f4f4f4").attr("stroke", "#999");
  g.append("circle").attr("cx", xs[5]).attr("cy", y).attr("r", 4).attr("fill", "#b9cfe6").attr("stroke", "#7a8799");
  // selected tool
  g.append("rect").attr("x", xs[6] - 11).attr("y", y - 11).attr("width", 22).attr("height", 21).attr("fill", "#fff").attr("stroke", "#3f9be0").attr("stroke-width", 1.2);
  g.append("rect").attr("x", xs[6] - 7).attr("y", y - 7).attr("width", 7).attr("height", 4).attr("fill", "#7cc95a");
  g.append("rect").attr("x", xs[6] - 7).attr("y", y + 1).attr("width", 11).attr("height", 4).attr("fill", "#e53935");
  vseg(g, xs[6] + 6, y - 3, y + 7, "#555", 2);
  // chart style
  g.append("rect").attr("x", xs[7] - 8).attr("y", y - 8).attr("width", 16).attr("height", 16).attr("fill", "#eee").attr("stroke", "#888");
  [-4, 0, 4].forEach(function(d, i) { g.append("rect").attr("x", xs[7] + d - 1.5).attr("y", y - 5 + i).attr("width", 3).attr("height", 9).attr("fill", i == 1 ? "#e53935" : "#7cc95a").attr("stroke", "#111").attr("stroke-width", 0.5); });
  // indicators
  g.append("rect").attr("x", xs[8] - 8).attr("y", y - 8).attr("width", 16).attr("height", 16).attr("fill", "#eef").attr("stroke", "#aaa");
  g.append("polyline").attr("points", [[xs[8] - 7, y + 2], [xs[8] - 3, y - 3], [xs[8] + 1, y + 1], [xs[8] + 7, y - 5]].join(" ")).attr("fill", "none").attr("stroke", "#e06060");
  if (xs[9]) {
    g.append("rect").attr("x", xs[9] - 6).attr("y", y - 8).attr("width", 12).attr("height", 16).attr("fill", "#eee").attr("stroke", "#bbb");
    label(g, xs[9], y + 1, "$", { anchor: "middle", size: 10, fill: "#aaa" });
  }
  if (xs[10]) {
    g.append("rect").attr("x", xs[10] - 6).attr("y", y - 8).attr("width", 12).attr("height", 16).attr("fill", "#e6e6f6").attr("stroke", "#888");
    g.append("rect").attr("x", xs[10] - 5).attr("y", y - 7).attr("width", 10).attr("height", 3).attr("fill", "#7a86c8");
  }
}
function dropdownBtn(g, x, y) {
  g.append("rect").attr("x", x).attr("y", y).attr("width", 21).attr("height", 21).attr("fill", "#eee").attr("stroke", "#bbb");
  g.append("path").attr("d", "M" + (x + 6) + "," + (y + 7) + "h9l-4.5,5z").attr("fill", "#111");
}
function scrollbar(g, x0, x1, y0, y1, thumbX) {
  g.append("rect").attr("x", x0).attr("y", y0).attr("width", x1 - x0).attr("height", y1 - y0).attr("fill", "#f0f0f0");
  g.append("rect").attr("x", thumbX).attr("y", y0).attr("width", 17).attr("height", y1 - y0 - 1).attr("fill", "#cdcdcd");
  var m = (y0 + y1) / 2;
  g.append("path").attr("d", "M" + (x0 + 10) + "," + (m - 4) + "l-4,4l4,4").attr("fill", "none").attr("stroke", "#666").attr("stroke-width", 1.6);
  g.append("path").attr("d", "M" + (x1 - 11) + "," + (m - 4) + "l4,4l-4,4").attr("fill", "none").attr("stroke", "#666").attr("stroke-width", 1.6);
}

// ---- main chart ----
var mainG = svg.append("g");
mainG.append("rect").attr("x", 470).attr("y", 0).attr("width", 1446).attr("height", 1023).attr("fill", "#fff");
hseg(mainG, 470, 1916, 0.5, "#999", 1);
var mx = d3.scaleLinear().domain([0, 196]).range([481.5, 481.5 + 7 * 196]);
var my = d3.scaleLinear().domain([1246, 1258]).range([903.3, 119.3]);
var mainPlot = clipGroup(mainG, 470, 56, 1389.5, 880);
var mainPanel = clipGroup(mainG, 470, 936, 1389.5, 36);

mainGridPrices.forEach(function(p) { hseg(mainPlot, 470, 1860, my(p), "#e2e2e2", 1.5); });
mainTimeIdx.forEach(function(i) { vseg(mainPlot, mx(i), 56, 936, "#e2e2e2", 1.2); });

hseg(mainPlot, mx(0), mx(195), my(1258.2), "#ffa500", 2.4, "20,3,3,3,3,3,3,3,3,3,3,3");
hseg(mainPlot, mx(62), mx(195), my(1248.4), "#ff0000", 2.4, "20,3,3,3,3,3,3,3,3,3,3,3");
hseg(mainPlot, mx(0), mx(4.5), my(1253.2), "#ff2020", 2.4, "20,3,3,3,3,3,3,3,3,3,3,3");

drawCandles(mainPlot, mainBodyHi, mainBodyLo, mx, my, 5, "#ff8c00", "#000",
  function(i) { return !mainUpRuns.some(function(r) { return i >= r[0] && i <= r[1]; }); },
  function(i) { return mainRedBars.indexOf(i) >= 0; }, "#ff0000", null, mainWickHigh, mainWickLow);

hseg(mainPlot, 470, 1860, my(mainLastLine), "#0000cd", 1.4);
drawDots(mainPlot, mainOrangeDots, mx, my, "#ffa500", 3);
drawDots(mainPlot, mainGreenDots, mx, my, "#008000", 3);
drawLine(mainPlot, mainBandLower.filter(function(d) { return d[0] >= 4 && d[0] <= 32; }), mx, my, "#ff2030", 3.2, d3.curveLinear, "3,2");
drawLine(mainPlot, mainBandUpper, mx, my, "#0a14e6", 2.2);
drawLine(mainPlot, mainBandLower, mx, my, "#0a14e6", 2.2);
drawSlopeLine(mainPlot, mainSma, mx, my, "#32cd32", "#ff1010", 3.4, "9,5");
drawLine(mainPlot, mainEma, mx, my, "#0b5f0b", 3.4, d3.curveMonotoneX);
drawSlopeLine(mainPlot, mainFast, mx, my, "#32cd32", "#ff1010", 2, "4,3");
drawSlopeLine(mainPlot, mainHma, mx, my, "#5b84e0", "#ff0000", 2.2);

mainCrimsonLines.forEach(function(d) { hseg(mainPlot, mx(d[0]), mx(d[1]), my(d[2]), "#dc143c", 3); });
mainCrosses.forEach(function(c) {
  c.forEach(function(d) {
    mainPlot.append("line").attr("x1", mx(d[0])).attr("y1", my(d[1])).attr("x2", mx(d[2])).attr("y2", my(d[3])).attr("stroke", "#dc143c").attr("stroke-width", 3);
  });
});
mainDownArrows.forEach(function(d) { smallArrow(mainPlot, mx(d[0]), my(d[1]), my(d[2]), false, "#ff0000"); });
mainUpArrows.forEach(function(d) { smallArrow(mainPlot, mx(d[0]), my(d[1]), my(d[2]), true, "#0b7a1b"); });
mainBigDown.forEach(function(d) { bigArrow(mainPlot, mx(d[0]), my(d[1]), my(d[2]), false, "#dc143c", 14, 14, 2.5); });
mainBigUp.forEach(function(d) { bigArrow(mainPlot, mx(d[0]), my(d[1]), my(d[2]), true, "#008000", 14, 14, 3); });
mainVLines.forEach(function(i) {
  vseg(mainPlot, mx(i), 56, 932, "#999", 3.4);
  vseg(mainPlot, mx(i), 56, 932, "#000", 2);
});

label(mainPlot, mx(38), 280, "shouldnt have taken this as there was no ulta break after washout", { bold: true, size: 12, width: 361 });
label(mainPlot, 1148, 652, "stopped out due to small stop", { bold: true, size: 12, width: 163 });
label(mainPlot, 471, 68, "EMA_Colors(GC 04-16 ( RJay's RangeNoGap  6 Tick),100,1,60), HMA_Colors_V3_No_Repaint_Bars(GC 04-16 ( RJay's RangeNoGap  6 Tick),100,1,21,21), EMA(GC 04-16 ( RJay's RangeNoGap  6 Tick),21), SMA_Colors(GC 04-16 ( RJay's RangeNoGap  6 Tick),100,5,5), Liner6306", { size: 11.5, width: 1392, fill: "#111" });

// indicator strip
mainBreakGreen.forEach(function(d) { mainPanel.append("rect").attr("x", mx(d[0])).attr("y", 937).attr("width", mx(d[1]) - mx(d[0])).attr("height", 33).attr("fill", "#008000"); });
mainBreakRed.forEach(function(d) { mainPanel.append("rect").attr("x", mx(d[0])).attr("y", 937).attr("width", mx(d[1]) - mx(d[0])).attr("height", 33).attr("fill", "#ff0000"); });
mainTimeIdx.forEach(function(i) { vseg(mainPanel, mx(i), 936, 972, "#e8e8e8", 1); });
hseg(mainPanel, 470, 1860, 958.3, "#000", 1);
label(mainG, 471, 953, "BreakCheckv9(GC 04-16 ( RJay's RangeNoGap  6 Tick))", { size: 11.5, width: 281, fill: "#111" });
label(mainG, 471, 965.5, "© 2016 NinjaTrader, LLC", { size: 11.5, width: 125, fill: "#111" });
hseg(mainG, 470, 1916, 936, "#000", 1.2);
hseg(mainG, 470, 1860, 971.7, "#000", 1.2);
vseg(mainG, 1859.5, 56, 972, "#000", 1.2);
vseg(mainG, mx(185.28), 56, 972, "#000", 1.2);

priceAxis(mainG, 1859.5, my, mainPriceTicks);
timeAxis(mainG, 971.7, mx, mainTimeIdx, mainTimeLabels);
mainG.append("rect").attr("x", 1755).attr("y", 978).attr("width", 46).attr("height", 13).attr("fill", "#cfcfcf");
label(mainG, 1778, 985, "08:51:42", { anchor: "middle", size: 11.5, fill: "#222" });

flag(mainG, 1860, 1903, my(1258.2), "#ffa500", "#000", "1258.2");
flag(mainG, 1860, 1903, my(1255.2), "#0000ff", "#fff", "1255.2");
flag(mainG, 1860, 1903, my(1253.5), "#0b5f0b", "#fff", "1253.5");
flag(mainG, 1866, 1909, my(1252.8), "#ff0000", "#fff", "1252.81", 33);
flag(mainG, 1860, 1903, my(1252.8), "#000", "#fff", "1252.8");
flag(mainG, 1860, 1903, my(1252.1), "#0000ff", "#fff", "1252.1");
flag(mainG, 1860, 1903, my(1248.4), "#ff0000", "#fff", "1248.4");
flag(mainG, 1860, 1910, 958.3, "#dcdcdc", "#222", "0.429", 27);
label(mainG, 1866, 971, "0", { size: 11.5, fill: "#222" });

drawChrome(mainG, 470, 1, 1916, 497, "GC 04-16 ( RJay's RangeNoGap  6 Tick)  2016-03-18", 1744, 1801, 1846, 1893, 267);
label(mainG, 487.5, 43, "GC 04-16", { size: 12, fill: "#222", width: 48 });
mainG.append("path").attr("d", "M542,42h5l-2.5,3z").attr("fill", "#333");
label(mainG, 559, 43, "RJay's RangeNoGap  6 Tick", { size: 12, fill: "#222", width: 141 });
mainG.append("path").attr("d", "M706,42h5l-2.5,3z").attr("fill", "#333");
toolIcons(mainG, 43, [731, 760, 790, 813, 842, 870, 900, 923, 946, 969, 992]);
mainG.append("rect").attr("x", 1879).attr("y", 58).attr("width", 13).attr("height", 12).attr("fill", "#fff").attr("stroke", "#111");
label(mainG, 1885.5, 64.5, "F", { anchor: "middle", size: 10 });
dropdownBtn(mainG, 1893, 57);
scrollbar(mainG, 470, 1916, 1000, 1023, 1882);

// ---- chart 2 ----
var g2 = svg.append("g");
g2.append("rect").attr("x", 2).attr("y", 0).attr("width", 464).attr("height", 511).attr("fill", "#fff");
var x2 = d3.scaleLinear().domain([0, 42]).range([13.33, 13.33 + 8 * 42]);
var y2 = d3.scaleLinear().domain([1248, 1272]).range([78 + 24 * 12.35, 78]);
var plot2 = clipGroup(g2, 3, 61, 409.5, 331);

// session boxes and levels
[[8, 125, 95, 117.7], [128, 341, 147, 170], [8, 125, 283.3, 305.7], [128, 341, 338, 360.7]].forEach(function(b) {
  plot2.append("rect").attr("x", b[0]).attr("y", b[2]).attr("width", b[1] - b[0]).attr("height", b[3] - b[2]).attr("fill", "#cfe8fa");
});
[[8, 125, 78.3, "#33e033"], [8, 125, 106.7, "#87cefa"], [181, 341, 158.7, "#87cefa"], [8, 125, 295, "#87cefa"], [181, 341, 349.3, "#87cefa"], [8, 125, 201.3, "#dda0dd"], [181, 341, 254.3, "#dda0dd"], [8, 125, 285.7, "#d01010"], [181, 341, 369.3, "#d01010"]].forEach(function(s) {
  hseg(plot2, s[0], s[1], s[2], s[3], 1.1);
});
vseg(plot2, x2(14), 61, 392, "#c8c8c8", 1);
hseg(plot2, x2(19.5), 412, y2(1267.7), "#ff0000", 2);

drawCandles(plot2, c2Top, c2Bot, x2, y2, 4.6, "#90ee90", "#ff0000",
  function(i) { return c2Red.indexOf(i) >= 0; }, function() { return false; }, "#ff0000", "#111", c2WickHigh, c2WickLow);
hseg(plot2, 3, 412, y2(1252.8), "#0000cd", 1.2);
drawLine(plot2, c2DarkGreen, x2, y2, "#1a6b1a", 1.8, d3.curveMonotoneX);
drawLine(plot2, c2Crimson, x2, y2, "#dc2f55", 1.8, d3.curveMonotoneX);
drawLine(plot2, c2Orange, x2, y2, "#ffa500", 1.8);
drawDots(plot2, c2OrangeDots, x2, y2, "#ffa500", 3);
drawLine(plot2, c2BandUpper, x2, y2, "#0a14e6", 1.8);
drawLine(plot2, c2BandLower, x2, y2, "#0a14e6", 1.8);
drawDots(plot2, c2GreenDots, x2, y2, "#008000", 3);
drawSlopeLine(plot2, c2Sma, x2, y2, "#32cd32", "#ff1010", 3, "8,4");
drawLine(plot2, c2SkyLine, x2, y2, "#3399ff", 1.8, d3.curveMonotoneX);
c2CrimsonLines.forEach(function(d) { hseg(plot2, x2(d[0]), x2(d[1]), y2(d[2]), "#dc143c", 2.5); });
c2CyanDashes.forEach(function(d) { hseg(plot2, x2(d[0]), x2(d[1]), y2(d[2]), "#22dff0", 2.5); });
c2Crosses.forEach(function(d) {
  plot2.append("line").attr("x1", x2(d[0])).attr("y1", y2(d[1])).attr("x2", x2(d[2])).attr("y2", y2(d[3])).attr("stroke", "#dc143c").attr("stroke-width", 2.4);
});
plot2.append("polygon").attr("points", "4,150 8,157 4,157").attr("fill", "#1a8a3a");
plot2.append("polygon").attr("points", "4,163 8,170 4,170").attr("fill", "#1a8a3a");
c2DownArrows.forEach(function(d) { smallArrow(plot2, x2(d[0]), y2(d[1]), y2(d[2]), false, "#ff0000"); });
c2UpArrows.forEach(function(d) { smallArrow(plot2, x2(d[0]), y2(d[1]), y2(d[2]), true, "#0b6b1b"); });
c2BigDown.forEach(function(d) { bigArrow(plot2, x2(d[0]), y2(d[1]), y2(d[2]), false, "#dc143c", 13, 13, 2.5); });
c2BigUp.forEach(function(d) { bigArrow(plot2, x2(d[0]), y2(d[1]), y2(d[2]), true, "#008000", 8, 10, 3); });
c2VLines.forEach(function(i) {
  vseg(plot2, x2(i), 61, 388, "#999", 3.2);
  vseg(plot2, x2(i), 61, 388, "#000", 2);
});
[["D-High", 142, 79, "#33e033"], ["ADN-High", 142, 107, "#87cefa"], ["D-Open", 142, 202, "#dda0dd"], ["D-Low", 142, 286, "#e01010"], ["ADN-Low", 142, 296, "#87cefa"], ["D-High", 358, 131, "#33e033"], ["ADN-High", 358, 159, "#87cefa"], ["D-Open", 358, 255, "#dda0dd"], ["ADN-Low", 358, 350, "#87cefa"], ["D-Low", 358, 370, "#e01010"]].forEach(function(t) {
  label(plot2, t[1], t[2], t[0], { fill: t[3], size: 11.5 });
});
label(plot2, 198, 377, "Range Counter only works on Range bars.", { size: 11, width: 208, fill: "#111" });
label(plot2, 6, 68, "RangeCounter(GC 04-16 (15 BetterRenko),True), anaCurrentDayOHLV43(GC 04-", { size: 11.5, width: 406, fill: "#111" });
plot2.append("path").attr("d", "M383,67L398,76L383,86Z").attr("fill", "#fff").attr("stroke", "#111").attr("stroke-width", 1.2);
plot2.append("rect").attr("x", 399).attr("y", 67).attr("width", 3.5).attr("height", 19).attr("fill", "#fff").attr("stroke", "#111");

// divergence panel
var div2 = d3.scaleLinear().domain([0, 100]).range([425.7, 397.5]);
var sub2 = clipGroup(g2, 3, 392.5, 409.5, 40);
sub2.append("rect").attr("x", 9).attr("y", 393).attr("width", 327.7).attr("height", 39).attr("fill", "#008000");
hseg(sub2, 4, 412, 404, "#9acd32", 2);
hseg(sub2, 4, 412, 420, "#8a00c4", 2);
drawLine(sub2, c2DivBlue, x2, div2, "#1414e6", 1.8);
drawLine(sub2, c2DivRed, x2, div2, "#ff0000", 3.6, d3.curveMonotoneX);
vseg(sub2, x2(14), 392, 432, "#e8e8e8", 1);
label(sub2, 9, 410, "NT7GbDivergence3(GC 04-16 (15 BetterRenko),D,10,3,8,45), BreakCheckv5(GC", { size: 11.5, width: 402, fill: "#222" });

// oscillator panel
var osc2 = d3.scaleLinear().domain([0, -1]).range([460, 434.6]);
var sub3 = clipGroup(g2, 3, 432.5, 409.5, 29);
c2CellGreen.forEach(function(d) { sub3.append("rect").attr("x", x2(d[0])).attr("y", 433).attr("width", x2(d[1]) - x2(d[0])).attr("height", 28).attr("fill", "#8fbc8f"); });
c2CellSalmon.forEach(function(d) { sub3.append("rect").attr("x", x2(d[0])).attr("y", 433).attr("width", x2(d[1]) - x2(d[0])).attr("height", 28).attr("fill", "#f08080"); });
vseg(sub3, x2(14), 432, 461, "#c8c8c8", 1);
d3.range(0, 15).forEach(function(i) { vseg(sub3, x2(i), osc2(-0.52), osc2(-0.38), "#ff0000", 2); });
d3.range(21, 26).forEach(function(i) { vseg(sub3, x2(i), osc2(-0.85), osc2(-0.6), "#1414e6", 2); });
drawLine(sub3, c2OscLine, x2, osc2, "#111", 1.6, d3.curveMonotoneX);
hseg(sub3, 4, 412, 445.5, "#555", 0.8);
label(sub3, 6, 450, "ShaHeikinAshi(GC 04-16 (15 BetterRenko)), DerivativeOscillator(GC 04-16 (1", { size: 11.5, width: 406, fill: "#222" });
label(sub3, 6, 454.5, "© 2016 NinjaTrader, LLC", { size: 11.5, width: 125, fill: "#222" });

hseg(g2, 3, 466, 392.3, "#000", 1.2);
hseg(g2, 3, 466, 432, "#000", 1.2);
hseg(g2, 3, 412, 461.3, "#000", 1.2);
vseg(g2, 412.3, 61, 462, "#000", 1.2);
priceAxis(g2, 412.3, y2, c2PriceTicks);
var t2 = timeAxis(g2, 461.3, x2, c2TimeIdx, c2TimeLabels);
t2.selectAll("text").filter(function() { return d3.select(this).text() == "3/18"; }).attr("x", -9);
t2.selectAll("text").filter(function() { return d3.select(this).text() == ":43:48"; }).attr("x", 5);
flag(g2, 413.5, 455.7, y2(1267.7), "#0000ff", "#fff", "1267.7");
flag(g2, 413.5, 455.7, y2(1265.4), "#87cefa", "#123", "1265.4");
flag(g2, 413.5, 455.7, 241, "#dc143c", "#fff", "1258.7");
flag(g2, 413.5, 455.7, 258, "#dda0dd", "#000", "1257.7");
flag(g2, 413.5, 455.7, 250, "#ffa500", "#000", "1258.1");
flag(g2, 413.5, 455.7, y2(1256.6), "#ff0000", "#fff", "1256.6");
flag(g2, 413.5, 455.7, y2(1255.7), "#0b5f0b", "#fff", "1255.7");
flag(g2, 413.5, 455.7, 306, "#3399ff", "#fff", "1253.4");
flag(g2, 413.5, 455.7, y2(1252.8), "#000", "#fff", "1252.8");
flag(g2, 413.5, 455.7, y2(1250), "#87cefa", "#123", "1250.0");
flag(g2, 413.5, 455.7, y2(1248.4), "#0000ff", "#fff", "1248.4");
flag(g2, 420, 450, 410, "#ff0000", "#fff", "55.71");
flag(g2, 413.5, 443, 410, "#0000ff", "#fff", "55.7");
label(g2, 420, 425.7, "0", { size: 11.5, fill: "#222" });
flag(g2, 413.5, 452, 446, "#000", "#fff", "-0.551");
label(g2, 420, 460, "0", { size: 11.5, fill: "#222" });

drawChrome(g2, 2, 1, 466, 32, "GC 04-16 (15 BetterRenko)  2016-03-18", 293, 352, 397, 443, 202);
label(g2, 23, 43, "GC 04-16", { size: 12, fill: "#222", width: 48 });
g2.append("path").attr("d", "M77,42h5l-2.5,3z").attr("fill", "#333");
label(g2, 91, 43, "15 BetterRenko", { size: 12, fill: "#222", width: 79 });
g2.append("path").attr("d", "M176,42h5l-2.5,3z").attr("fill", "#333");
toolIcons(g2, 43, [201, 230, 260, 283, 311, 340, 370, 393, 416]);
dropdownBtn(g2, 444, 57);
scrollbar(g2, 3, 466, 488, 510, 432);

// ---- chart 3 ----
var g3 = svg.append("g");
g3.append("rect").attr("x", 1).attr("y", 513).attr("width", 465).attr("height", 513).attr("fill", "#fff");
var x3 = d3.scaleLinear().domain([0, 79]).range([10.33, 10.33 + 5 * 79]);
var y3 = d3.scaleLinear().domain([1247, 1257]).range([881, 634]);
var plot3 = clipGroup(g3, 2, 574, 410.5, 325);

plot3.append("rect").attr("x", 8).attr("y", 783).attr("width", 397).attr("height", 44.7).attr("fill", "#cfe8fa");
hseg(plot3, 305, 405, 615.3, "#dda0dd", 1.1);
hseg(plot3, 305, 405, 806.3, "#87cefa", 1.1);
hseg(plot3, 305, 405, 845.3, "#d01010", 1.1);
hseg(plot3, 2, 412, y3(1252.8), "#0000cd", 1.2);
plot3.append("line").attr("x1", x3(61)).attr("y1", y3(1252.15)).attr("x2", 412).attr("y2", y3(1253.2)).attr("stroke", "#1a8a1a").attr("stroke-width", 1.4);
drawLine(plot3, c3DarkGreen, x3, y3, "#1a6b1a", 1.8, d3.curveMonotoneX);
drawLine(plot3, c3Crimson, x3, y3, "#e0507a", 1.8, d3.curveMonotoneX);
drawCandles(plot3, c3Top, c3Bot, x3, y3, 4, "#90ee90", "#ff0000",
  function(i) { return c3Red.indexOf(i) >= 0; }, function() { return false; }, "#ff0000", "#222", c3WickHigh, c3WickLow);
drawDots(plot3, c3OrangeDots, x3, y3, "#ffa500", 2.8);
drawDots(plot3, c3GreenDots, x3, y3, "#0b7a0b", 2.8);
drawSlopeLine(plot3, c3Sma, x3, y3, "#32cd32", "#ff1010", 3, "7,4");
drawLine(plot3, c3SkyLine, x3, y3, "#3399ff", 1.8, d3.curveMonotoneX);
c3CrimsonLines.forEach(function(d) { hseg(plot3, x3(d[0]), x3(d[1]), y3(d[2]), "#dc143c", 2.6); });
c3Crosses.forEach(function(c) {
  c.forEach(function(d) {
    plot3.append("line").attr("x1", x3(d[0])).attr("y1", y3(d[1])).attr("x2", x3(d[2])).attr("y2", y3(d[3])).attr("stroke", "#dc143c").attr("stroke-width", 2.4);
  });
});
c3DownArrows.forEach(function(d) { smallArrow(plot3, x3(d[0]), y3(d[1]), y3(d[2]), false, "#ff0000"); });
c3BlueArrows.forEach(function(d) { smallArrow(plot3, x3(d[0]), y3(d[1]), y3(d[2]), false, "#1414e6"); });
c3UpArrows.forEach(function(d) { smallArrow(plot3, x3(d[0]), y3(d[1]), y3(d[2]), true, "#0b6b1b"); });
c3BigDown.forEach(function(d) { bigArrow(plot3, x3(d[0]), y3(d[1]), y3(d[2]), false, "#dc143c", 14, 14, 2.6); });
c3BigUp.forEach(function(d) { bigArrow(plot3, x3(d[0]), y3(d[1]), y3(d[2]), true, "#008000", 13, 13, 2.6); });
c3VLines.forEach(function(i) {
  vseg(plot3, x3(i), 574, 894, "#999", 3.2);
  vseg(plot3, x3(i), 574, 894, "#000", 2);
});
label(plot3, 4, 581, "RangeCounter(GC 04-16 (5 BetterRenko),True), anaCurrentDayOHLV43(GC 04-16", { size: 11.5, width: 408, fill: "#111" });
label(plot3, 198, 884, "Range Counter only works on Range bars.", { size: 11, width: 208, fill: "#111" });

var div3 = d3.scaleLinear().domain([0, 100]).range([933, 902]);
var sub4 = clipGroup(g3, 2, 899, 410.5, 39);
sub4.append("rect").attr("x", 8).attr("y", 900).attr("width", 384.7).attr("height", 38).attr("fill", "#ff0000");
hseg(sub4, 2, 412, 911, "#9acd32", 2);
hseg(sub4, 2, 412, 926, "#8a00c4", 2);
drawLine(sub4, c3DivBlue, x3, div3, "#1414e6", 1.8);
drawLine(sub4, c3DivRed, x3, div3, "#ff0000", 3.4);
label(sub4, 7, 916.7, "NT7GbDivergence3(GC 04-16 (5 BetterRenko),D,10,3,8,45), BreakCheckv5(GC 0", { size: 11.5, width: 404, fill: "#222" });

label(g3, 4, 956, "BreakCheckv6(GC 04-16 (5 BetterRenko))", { size: 11.5, width: 209, fill: "#111" });
label(g3, 4, 969, "© 2016 NinjaTrader, LLC", { size: 11.5, width: 125, fill: "#111" });
hseg(g3, 1, 466, 899, "#000", 1.2);
hseg(g3, 1, 466, 938.3, "#000", 1.2);
hseg(g3, 1, 412, 975.3, "#000", 1.2);
vseg(g3, 412.3, 574, 976, "#000", 1.2);
priceAxis(g3, 412.3, y3, c3PriceTicks);
var t3 = timeAxis(g3, 975.3, x3, c3TimeIdx, c3TimeLabels);
t3.selectAll("text").filter(function() { return d3.select(this).text() == "5:21"; }).attr("x", 2);
flag(g3, 413.5, 455.7, 615, "#dda0dd", "#000", "1257.7");
flag(g3, 413.5, 455.7, 703, "#0b5f0b", "#fff", "1254.2");
flag(g3, 413.5, 455.7, 717, "#ff0000", "#fff", "1253.5");
flag(g3, 413.5, 455.7, 724.7, "#dc3c5a", "#fff", "1253.3");
flag(g3, 413.5, 455.7, 736, "#000", "#fff", "1252.8");
flag(g3, 413.5, 455.7, 806, "#87cefa", "#123", "1250.0");
flag(g3, 413.5, 455.7, 845, "#ff0000", "#fff", "1248.4");
flag(g3, 413.5, 450, 926, "#0000ff", "#fff", "22.58");
label(g3, 420, 973, "0", { size: 11.5, fill: "#222" });

drawChrome(g3, 1, 513, 466, 30, "GC 04-16 (5 BetterRenko)  2016-03-18", 293, 352, 397, 443, 196);
label(g3, 21, 556, "GC 04-16", { size: 12, fill: "#222", width: 48 });
g3.append("path").attr("d", "M75,555h5l-2.5,3z").attr("fill", "#333");
label(g3, 89, 556, "5 BetterRenko", { size: 12, fill: "#222", width: 73 });
g3.append("path").attr("d", "M168,555h5l-2.5,3z").attr("fill", "#333");
toolIcons(g3, 556, [193, 222, 252, 274, 303, 332, 362, 385, 408, 431]);
g3.append("rect").attr("x", 428.5).attr("y", 571.5).attr("width", 12).attr("height", 12).attr("fill", "#fff").attr("stroke", "#111");
label(g3, 434.5, 578, "F", { anchor: "middle", size: 10 });
dropdownBtn(g3, 444, 570);
scrollbar(g3, 1, 466, 1003, 1025, 432);

// window frames
vseg(svg, 1, 0, 1029, "#9a9a9a", 2);
vseg(svg, 468, 0, 1029, "#9a9a9a", 4);
hseg(svg, 0, 468, 512, "#9a9a9a", 2.5);
hseg(svg, 0, 468, 0.5, "#aaa", 1);
</script>
</body>
</html>
